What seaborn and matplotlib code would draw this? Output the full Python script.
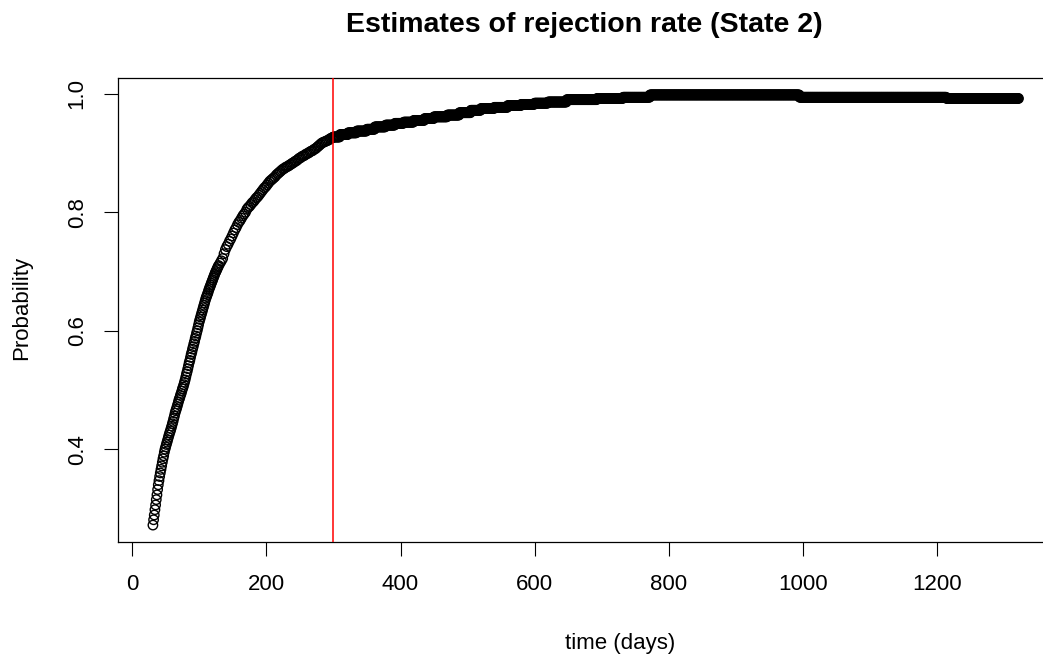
import matplotlib
matplotlib.use("Agg")
import numpy as np
import pandas as pd
import matplotlib.pyplot as plt
import seaborn as sns

# Early phase: daily estimates to day 129, then every 2 days to day 299
rise_days = list(range(31, 130)) + list(range(131, 300, 2))
rise_prob = [
    # days 31-129, daily
    0.272, 0.281, 0.289, 0.298, 0.306, 0.315, 0.323, 0.332, 0.340, 0.347,
    0.354, 0.360, 0.366, 0.372, 0.378, 0.384, 0.389, 0.395, 0.400, 0.404,
    0.408, 0.412, 0.416, 0.420, 0.424, 0.428, 0.431, 0.435, 0.439, 0.443,
    0.447, 0.452, 0.456, 0.461, 0.465, 0.468, 0.472, 0.476, 0.480, 0.484,
    0.487, 0.491, 0.494, 0.498, 0.502, 0.505, 0.509, 0.513, 0.517, 0.522,
    0.527, 0.531, 0.536, 0.541, 0.546, 0.550, 0.555, 0.560, 0.564, 0.569,
    0.573, 0.578, 0.582, 0.587, 0.591, 0.596, 0.600, 0.605, 0.610, 0.615,
    0.619, 0.623, 0.627, 0.631, 0.635, 0.639, 0.643, 0.647, 0.651, 0.655,
    0.658, 0.661, 0.664, 0.668, 0.671, 0.674, 0.677, 0.680, 0.683, 0.686,
    0.689, 0.692, 0.695, 0.698, 0.700, 0.703, 0.705, 0.708, 0.710,
    # days 131-299, every 2 days
    0.714, 0.718, 0.722, 0.730, 0.737, 0.742, 0.746, 0.751, 0.755, 0.760,
    0.765, 0.770, 0.774, 0.779, 0.783, 0.786, 0.790, 0.794, 0.797, 0.800,
    0.805, 0.808, 0.810, 0.813, 0.816, 0.818, 0.821, 0.824, 0.826, 0.829,
    0.832, 0.835, 0.838, 0.841, 0.843, 0.846, 0.849, 0.852, 0.854, 0.856,
    0.858, 0.860, 0.863, 0.865, 0.867, 0.869, 0.871, 0.873, 0.874, 0.876,
    0.877, 0.878, 0.880, 0.881, 0.883, 0.884, 0.886, 0.887, 0.889, 0.891,
    0.892, 0.894, 0.895, 0.896, 0.898, 0.899, 0.900, 0.902, 0.903, 0.904,
    0.906, 0.907, 0.909, 0.911, 0.913, 0.915, 0.917, 0.918, 0.919, 0.920,
    0.921, 0.922, 0.924, 0.925, 0.926,
]

# Later phase: daily estimate holds its level from each start day to the next
level_start = [300, 310, 322, 335, 350, 362, 378, 392, 405, 420,
               436, 450, 470, 488, 505, 520, 540, 560, 580, 600,
               620, 648, 693, 732, 772, 995, 1214]
level_prob = [0.927, 0.931, 0.934, 0.937, 0.940, 0.944, 0.947, 0.950, 0.952, 0.955,
              0.958, 0.961, 0.964, 0.968, 0.972, 0.975, 0.977, 0.980, 0.982, 0.984,
              0.986, 0.990, 0.992, 0.994, 0.998, 0.994, 0.992]
last_day = 1321

cutoff_day = 300

x_ticks = [0, 200, 400, 600, 800, 1000, 1200]
y_ticks = [0.4, 0.6, 0.8, 1.0]
y_tick_labels = ["0.4", "0.6", "0.8", "1.0"]

title = "Estimates of rejection rate (State 2)"
x_label = "time (days)"
y_label = "Probability"

assert len(rise_days) == len(rise_prob)
assert len(level_start) == len(level_prob)

# Assemble the daily series
days = list(rise_days)
prob = list(rise_prob)
bounds = level_start[1:] + [last_day + 1]
for start, stop, p in zip(level_start, bounds, level_prob):
    for d in range(start, stop):
        days.append(d)
        prob.append(p)
df = pd.DataFrame({"time": days, "prob": prob})

sns.set_style("white")
plt.rcParams["font.family"] = ["Liberation Sans", "DejaVu Sans"]

fig = plt.figure(figsize=(10.43, 6.6), dpi=100)
ax = fig.add_axes([118.3 / 1043, 1 - 542.3 / 660, 934.8 / 1043, 464.6 / 660])

sns.scatterplot(data=df, x="time", y="prob", ax=ax, marker="o", s=46,
                linewidth=1.0, legend=False)
coll = ax.collections[0]
coll.set_facecolor("none")
coll.set_edgecolor("black")

ax.axvline(cutoff_day, color="#ff0000", lw=1.1, zorder=3)

# axis limits padded by 4% of the data range on each side
xmin, xmax = df["time"].min(), df["time"].max()
ymin, ymax = df["prob"].min(), df["prob"].max()
xp, yp = 0.04 * (xmax - xmin), 0.04 * (ymax - ymin)
ax.set_xlim(xmin - xp, xmax + xp)
ax.set_ylim(ymin - yp, ymax + yp)

ax.set_xticks(x_ticks)
ax.set_xticklabels([str(t) for t in x_ticks])
ax.set_yticks(y_ticks)
ax.set_yticklabels(y_tick_labels)
ax.set_xlabel("")
ax.set_ylabel("")

for side in ["top", "bottom", "left"]:
    ax.spines[side].set_visible(True)
    ax.spines[side].set_color("black")
    ax.spines[side].set_linewidth(0.9)
ax.spines["right"].set_visible(False)

ax.tick_params(axis="both", length=10, width=0.8, color="black",
               labelsize=16, labelcolor="black", direction="out",
               bottom=True, left=True)
ax.tick_params(axis="x", pad=13)
ax.tick_params(axis="y", pad=12, labelrotation=90)
for lab in ax.get_yticklabels():
    lab.set_va("center")

fig.text(584 / 1043, 1 - 31.7 / 660, title, ha="center", va="baseline",
         fontsize=20.5, fontweight="bold", color="black")
fig.text(620 / 1043, 1 - 643 / 660, x_label, ha="center", va="center",
         fontsize=16, color="black")
fig.text(21.7 / 1043, 1 - 308 / 660, y_label, ha="center", va="center",
         rotation=90, fontsize=16, color="black")

fig.savefig("out.png", dpi=100)
